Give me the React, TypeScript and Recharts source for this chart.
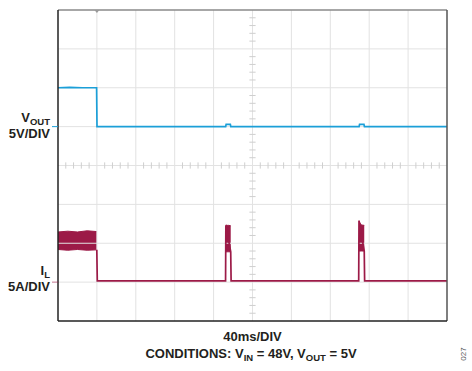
import React from 'react';
import { ComposedChart, Line, Area, XAxis, YAxis, ReferenceLine } from 'recharts';

// Screen: 10 horizontal divisions of 40 ms, 8 vertical divisions.
const timeTicks = [0, 40, 80, 120, 160, 200, 240, 280, 320, 360, 400];
// VOUT channel: 5 V/div, ground three divisions below the top.
const voutTicks = [-25, -20, -15, -10, -5, 0, 5, 10, 15];
const voutDomain: [number, number] = [-25, 15];
// IL channel: 5 A/div, ground seven divisions below the top.
const ilDomain: [number, number] = [-5, 35];

// VOUT trace (ms, V)
const voutTimeMs = [0, 12, 25, 39.7, 40.1, 100, 172.4, 172.9, 177.2, 177.7, 250, 309.6, 310.1, 314.6, 315.1, 400];
const voutVolts = [5.0, 5.05, 5.0, 5.0, 0, 0, 0, 0.3, 0.3, 0, 0, 0, 0.3, 0.3, 0, 0];

// IL trace after the start-up burst (ms, A)
const ilTimeMs = [39.9, 40.4, 120, 172.3, 172.6, 177.6, 178.0, 250, 309.2, 309.5, 314.9, 315.3, 400];
const ilAmps = [4.15, 0.15, 0.15, 0.15, 7.3, 3.9, 0.15, 0.15, 0.15, 7.9, 4.0, 0.15, 0.15];

// Switching ripple envelopes on IL (ms, low A, high A)
const startupRippleMs = [0, 10, 20, 30, 39.9];
const startupRippleLow = [4.2, 4.1, 4.2, 4.1, 4.15];
const startupRippleHigh = [6.45, 6.55, 6.45, 6.6, 6.5];

const burstARippleMs = [172.6, 174, 175.5, 177.6];
const burstARippleLow = [3.9, 3.9, 3.9, 3.9];
const burstARippleHigh = [7.35, 7.3, 7.3, 7.25];

const burstBRippleMs = [309.5, 310.5, 312, 314.9];
const burstBRippleLow = [4.0, 4.0, 4.0, 4.0];
const burstBRippleHigh = [7.9, 7.6, 7.35, 7.3];

const voutData = voutTimeMs.map((t, i) => ({ t, v: voutVolts[i] }));
const ilData = ilTimeMs.map((t, i) => ({ t, a: ilAmps[i] }));
const band = (ms: number[], lo: number[], hi: number[]) =>
  ms.map((t, i) => ({ t, r: [lo[i], hi[i]] }));
const startupBand = band(startupRippleMs, startupRippleLow, startupRippleHigh);
const burstABand = band(burstARippleMs, burstARippleLow, burstARippleHigh);
const burstBBand = band(burstBRippleMs, burstBRippleLow, burstBRippleHigh);

// Minor graticule marks on the centre cross (5 per division)
const centreTime = 200;
const centreVolt = -5;
const minorTimeMarks = Array.from({ length: 51 }, (_, i) => i * 8).filter((t) => t % 40 !== 0);
const minorVoltMarks = Array.from({ length: 41 }, (_, i) => -25 + i).filter((v) => v % 5 !== 0);

const W = 472;
const H = 371;
const M = { top: 10, right: 25, bottom: 50, left: 58 };
const plotW = W - M.left - M.right;
const plotH = H - M.top - M.bottom;
const xPx = (t: number) => M.left + (t / 400) * plotW;
const yVout = (v: number) => M.top + ((voutDomain[1] - v) / (voutDomain[1] - voutDomain[0])) * plotH;
const yIl = (a: number) => M.top + ((ilDomain[1] - a) / (ilDomain[1] - ilDomain[0])) * plotH;

const BLUE = '#1b9fd8';
const RED = '#9c1a47';
const GRID = '#e2e2e2';
const MINOR = '#cfcfcf';
const FONT = '"Liberation Sans", Arial, Helvetica, sans-serif';

export default function App() {
  return (
    <div style={{ position: 'absolute', left: 0, top: 0, width: W, height: H, background: '#fff' }}>
      <ComposedChart width={W} height={H} margin={M}>
        <XAxis dataKey="t" type="number" domain={[0, 400]} ticks={timeTicks} hide allowDataOverflow />
        <YAxis yAxisId="v" type="number" domain={voutDomain} ticks={voutTicks} hide allowDataOverflow />
        <YAxis yAxisId="i" type="number" domain={ilDomain} hide allowDataOverflow />

        {timeTicks.slice(1, -1).map((t) => (
          <ReferenceLine key={'gx' + t} yAxisId="v" x={t} stroke={GRID} strokeWidth={1} />
        ))}
        {voutTicks.slice(1, -1).map((v) => (
          <ReferenceLine key={'gy' + v} yAxisId="v" y={v} stroke={GRID} strokeWidth={1} />
        ))}
        {minorTimeMarks.map((t) => (
          <ReferenceLine
            key={'mx' + t}
            yAxisId="v"
            segment={[{ x: t, y: centreVolt - 0.4 }, { x: t, y: centreVolt + 0.4 }]}
            stroke={MINOR}
          />
        ))}
        {minorVoltMarks.map((v) => (
          <ReferenceLine
            key={'my' + v}
            yAxisId="v"
            segment={[{ x: centreTime - 3.2, y: v }, { x: centreTime + 3.2, y: v }]}
            stroke={MINOR}
          />
        ))}

        <Line
          yAxisId="v"
          data={voutData}
          dataKey="v"
          type="linear"
          stroke={BLUE}
          strokeWidth={1.7}
          dot={false}
          isAnimationActive={false}
        />
        {[startupBand, burstABand, burstBBand].map((d, k) => (
          <Area
            key={'band' + k}
            yAxisId="i"
            data={d}
            dataKey="r"
            type="linear"
            stroke={RED}
            strokeWidth={1}
            fill={RED}
            fillOpacity={1}
            dot={false}
            activeDot={false}
            isAnimationActive={false}
          />
        ))}
        <Line
          yAxisId="i"
          data={ilData}
          dataKey="a"
          type="linear"
          stroke={RED}
          strokeWidth={1.7}
          dot={false}
          isAnimationActive={false}
        />

        <ReferenceLine yAxisId="v" y={voutDomain[1]} stroke="#8a8a8a" strokeWidth={1.5} />
        <ReferenceLine yAxisId="v" x={400} stroke="#555" strokeWidth={1.5} />
        <ReferenceLine yAxisId="v" y={voutDomain[0]} stroke="#222" strokeWidth={1.5} />
        <ReferenceLine yAxisId="v" x={0} stroke="#222" strokeWidth={1.5} />
      </ComposedChart>

      <svg
        width={W}
        height={H}
        style={{ position: 'absolute', left: 0, top: 0, pointerEvents: 'none' }}
        fontFamily={FONT}
        fontWeight="bold"
        fill="#231f20"
      >
        {/* trigger marker */}
        <path d={`M${xPx(40) - 2.5},${M.top} L${xPx(40) + 2.5},${M.top} L${xPx(40)},${M.top + 3} Z`} fill="#9a9a9a" />
        {/* channel ground markers */}
        <line x1={M.left - 6} x2={M.left} y1={yVout(0)} y2={yVout(0)} stroke={BLUE} strokeWidth={1} />
        <line x1={M.left - 6} x2={M.left} y1={yIl(0)} y2={yIl(0)} stroke={RED} strokeWidth={1} opacity={0.6} />

        <text x={50} y={122} fontSize={13} textAnchor="end">
          V<tspan fontSize={9.5} dy={3}>OUT</tspan>
        </text>
        <text x={50} y={138} fontSize={13} textAnchor="end">5V/DIV</text>
        <text x={50} y={275} fontSize={13} textAnchor="end">
          I<tspan fontSize={9.5} dy={3}>L</tspan>
        </text>
        <text x={50} y={291} fontSize={13} textAnchor="end">5A/DIV</text>

        <text x={252.5} y={341} fontSize={13} textAnchor="middle">40ms/DIV</text>
        <text x={251} y={358} fontSize={13} textAnchor="middle">
          CONDITIONS: V<tspan fontSize={9.5} dy={3}>IN</tspan>
          <tspan dy={-3}> = 48V, V</tspan>
          <tspan fontSize={9.5} dy={3}>OUT</tspan>
          <tspan dy={-3}> = 5V</tspan>
        </text>
        <text
          x={466}
          y={354}
          fontSize={8}
          fontWeight="normal"
          fill="#555"
          textAnchor="middle"
          transform="rotate(-90 466 354)"
        >
          027
        </text>
      </svg>
    </div>
  );
}
